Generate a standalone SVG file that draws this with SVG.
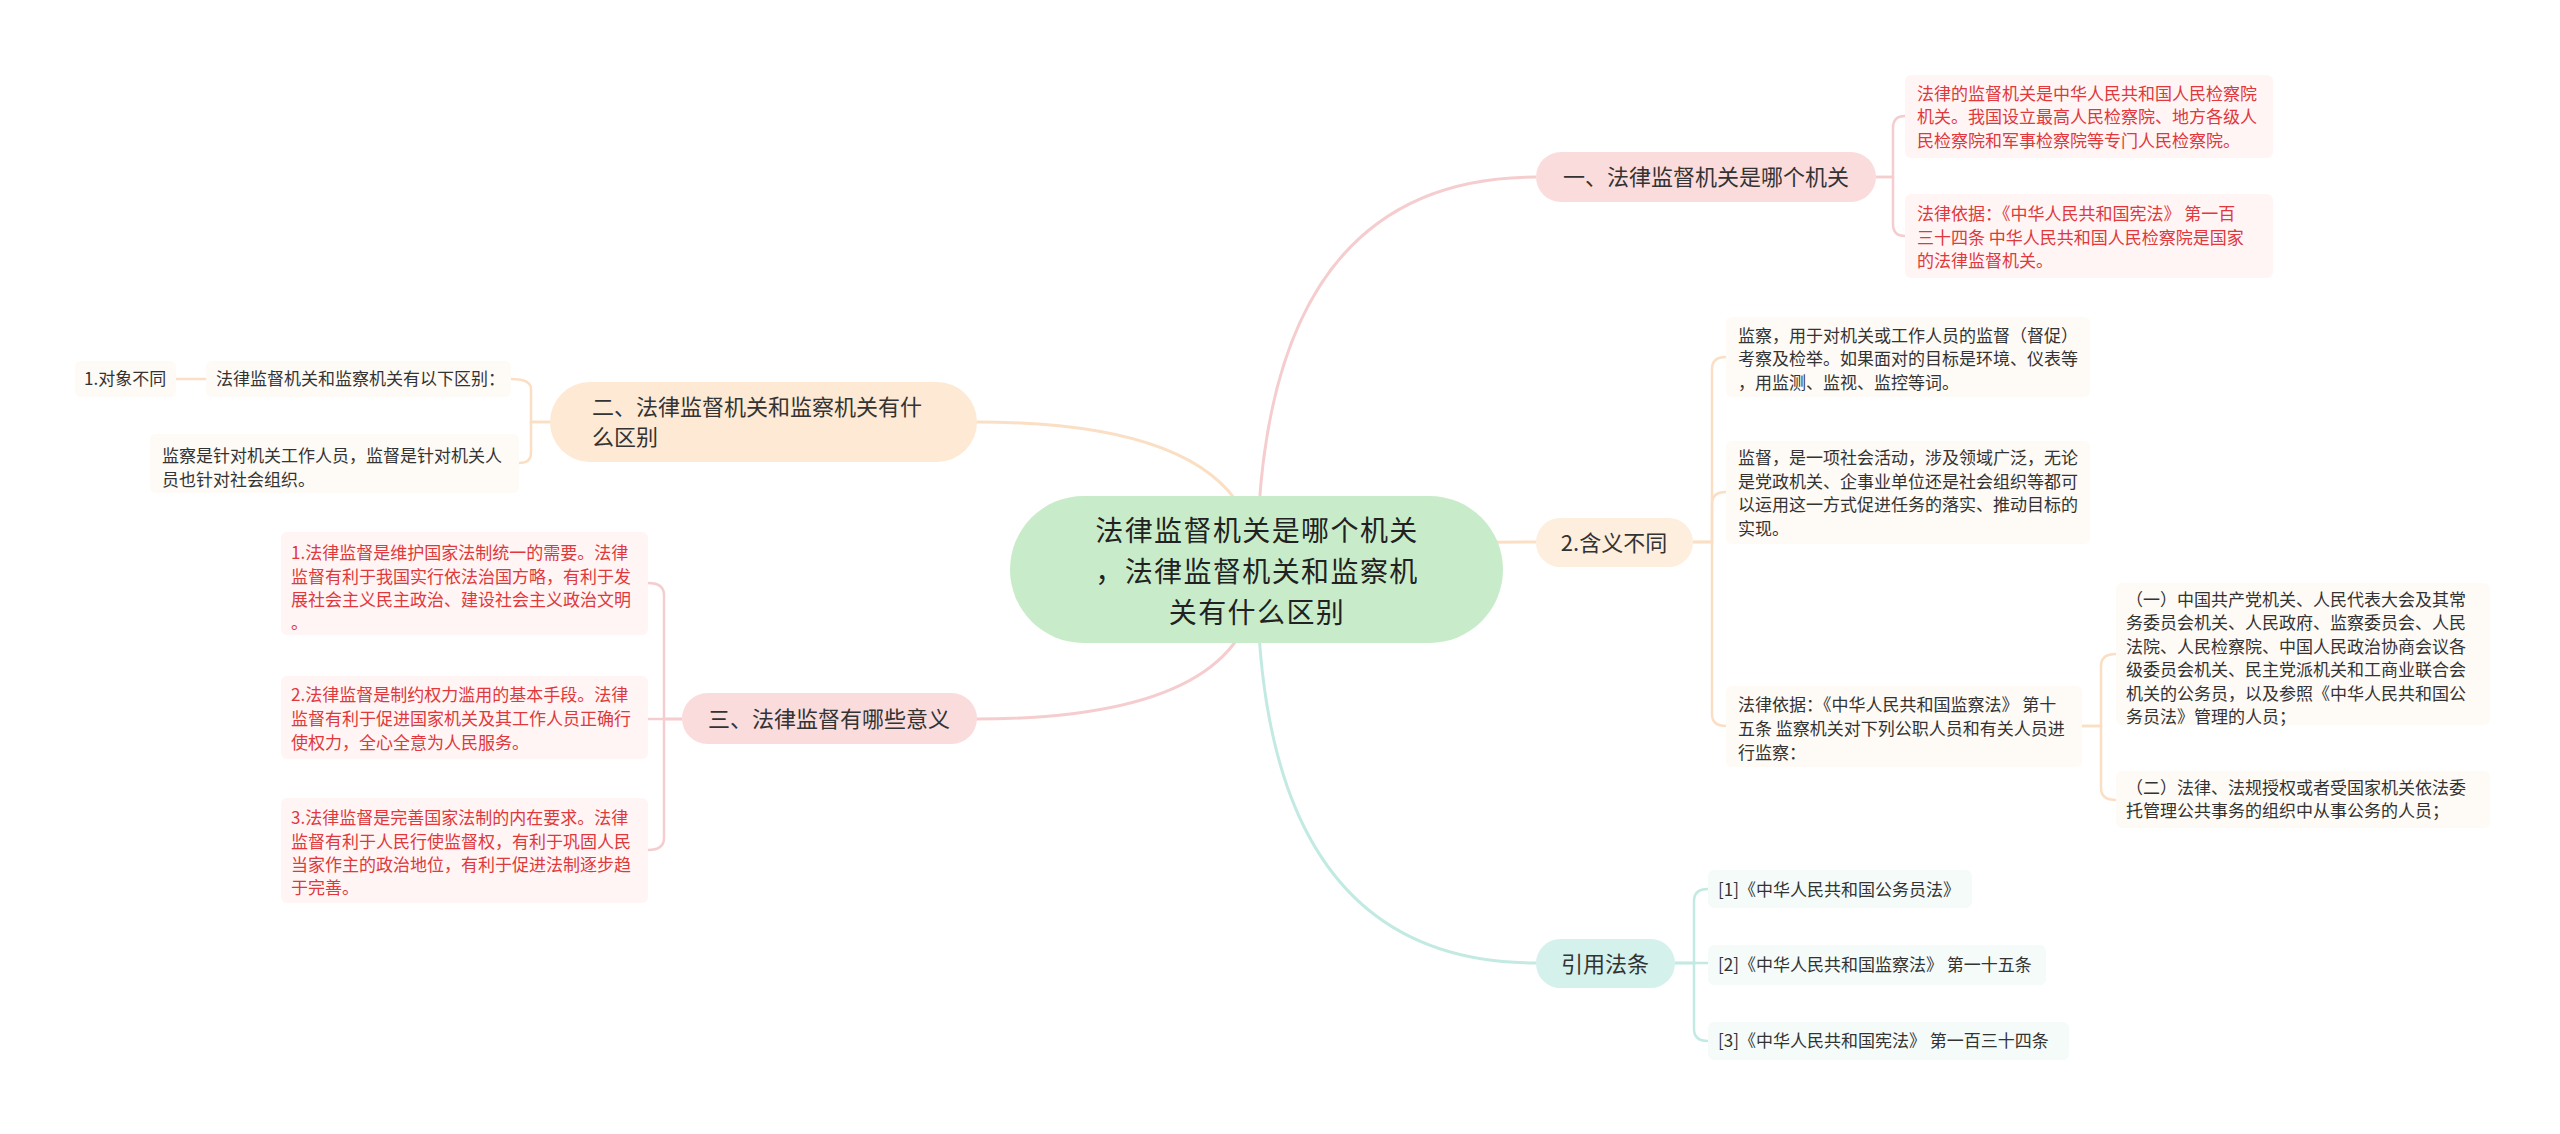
<svg xmlns="http://www.w3.org/2000/svg" width="2560" height="1134" viewBox="0 0 2560 1134">
<style>
text{font-family:"Noto Sans CJK SC","Noto Sans",sans-serif;}
.ct{font-size:28px;letter-spacing:1.4px;fill:#222;text-anchor:middle;}
.bt{font-size:22px;fill:#333;}
.tr{font-size:17px;fill:#e0383c;}
.td{font-size:17px;fill:#333;}
.cb-r{fill:#fff5f5;}
.cb-o{fill:#fefaf5;}
.cb-t{fill:#f4fbf9;}
.l-r{fill:none;stroke:#f5cdce;stroke-width:2.5;}
.l-o{fill:none;stroke:#fbdfc4;stroke-width:2.5;}
.l-t{fill:none;stroke:#c3eae2;stroke-width:2.5;}
.m{stroke-width:3;}
</style>
<rect width="2560" height="1134" fill="#ffffff"/>
<g id="connectors">
<path class="l-r m" d="M1257 571 Q1257 177 1536 177"/>
<path class="l-o m" d="M1257 571 Q1257 542 1536 542"/>
<path class="l-t m" d="M1257 571 Q1257 963 1536 963"/>
<path class="l-o m" d="M1257 571 Q1257 422 976 422"/>
<path class="l-r m" d="M1257 571 Q1257 719 976 719"/>
<path class="l-r" d="M1874 177 H1893 V128 Q1893 116 1905 116"/>
<path class="l-r" d="M1874 177 H1893 V224 Q1893 236 1905 236"/>
<path class="l-o" d="M1693 542 H1712 V369 Q1712 357 1726 357"/>
<path class="l-o" d="M1693 542 H1712 V504 Q1712 492 1726 492"/>
<path class="l-o" d="M1693 542 H1712 V714 Q1712 726 1726 726"/>
<path class="l-o" d="M2082 726 H2101 V666 Q2101 654 2116 654"/>
<path class="l-o" d="M2082 726 H2101 V788 Q2101 800 2116 800"/>
<path class="l-t" d="M1675 963 H1694 V901 Q1694 889 1708 889"/>
<path class="l-t" d="M1675 963 H1708"/>
<path class="l-t" d="M1675 963 H1694 V1029 Q1694 1041 1708 1041"/>
<path class="l-o" d="M550 422 H531 V389 Q531 379 511 379"/>
<path class="l-o" d="M550 422 H531 V453 Q531 463 519 463"/>
<path class="l-o" d="M206 379 H176"/>
<path class="l-r" d="M682 719 H664 V595 Q664 583 648 583"/>
<path class="l-r" d="M682 719 H648"/>
<path class="l-r" d="M682 719 H664 V838 Q664 850 648 850"/>
</g>
<g id="root">
<rect x="1010" y="496" width="493" height="147" rx="73.5" fill="#c8ecca"/>
<text class="ct"><tspan x="1257" y="541">法律监督机关是哪个机关</tspan><tspan x="1257" y="582">，法律监督机关和监察机</tspan><tspan x="1257" y="623">关有什么区别</tspan></text>
</g>
<g id="b1">
<rect x="1536" y="152" width="340" height="50" rx="25" fill="#fbdcdc"/>
<text class="bt" x="1706" y="185" text-anchor="middle">一、法律监督机关是哪个机关</text>
</g>
<g id="b1a">
<rect class="cb-r" x="1905" y="75" width="368" height="83" rx="6"/>
<text class="tr"><tspan x="1917" y="100">法律的监督机关是中华人民共和国人民检察院</tspan><tspan x="1917" y="123">机关。我国设立最高人民检察院、地方各级人</tspan><tspan x="1917" y="147">民检察院和军事检察院等专门人民检察院。</tspan></text>
</g>
<g id="b1b">
<rect class="cb-r" x="1905" y="194" width="368" height="84" rx="6"/>
<text class="tr"><tspan x="1917" y="220">法律依据：《中华人民共和国宪法》 第一百</tspan><tspan x="1917" y="244">三十四条 中华人民共和国人民检察院是国家</tspan><tspan x="1917" y="267">的法律监督机关。</tspan></text>
</g>
<g id="b2">
<rect x="1536" y="518" width="157" height="49" rx="24.5" fill="#fdeedd"/>
<text class="bt" x="1614" y="551" text-anchor="middle">2.含义不同</text>
</g>
<g id="b2a">
<rect class="cb-o" x="1726" y="317" width="364" height="80" rx="6"/>
<text class="td"><tspan x="1738" y="342">监察，用于对机关或工作人员的监督（督促）</tspan><tspan x="1738" y="365">考察及检举。如果面对的目标是环境、仪表等</tspan><tspan x="1738" y="389">，用监测、监视、监控等词。</tspan></text>
</g>
<g id="b2b">
<rect class="cb-o" x="1726" y="441" width="364" height="103" rx="6"/>
<text class="td"><tspan x="1738" y="464">监督，是一项社会活动，涉及领域广泛，无论</tspan><tspan x="1738" y="488">是党政机关、企事业单位还是社会组织等都可</tspan><tspan x="1738" y="511">以运用这一方式促进任务的落实、推动目标的</tspan><tspan x="1738" y="535">实现。</tspan></text>
</g>
<g id="b2c">
<rect class="cb-o" x="1726" y="686" width="356" height="81" rx="6"/>
<text class="td"><tspan x="1738" y="711">法律依据：《中华人民共和国监察法》 第十</tspan><tspan x="1738" y="735">五条 监察机关对下列公职人员和有关人员进</tspan><tspan x="1738" y="759">行监察：</tspan></text>
</g>
<g id="b2c1">
<rect class="cb-o" x="2116" y="583" width="374" height="142" rx="6"/>
<text class="td"><tspan x="2126" y="606">（一）中国共产党机关、人民代表大会及其常</tspan><tspan x="2126" y="629">务委员会机关、人民政府、监察委员会、人民</tspan><tspan x="2126" y="653">法院、人民检察院、中国人民政治协商会议各</tspan><tspan x="2126" y="676">级委员会机关、民主党派机关和工商业联合会</tspan><tspan x="2126" y="700">机关的公务员，以及参照《中华人民共和国公</tspan><tspan x="2126" y="723">务员法》管理的人员；</tspan></text>
</g>
<g id="b2c2">
<rect class="cb-o" x="2116" y="771" width="374" height="57" rx="6"/>
<text class="td"><tspan x="2126" y="794">（二）法律、法规授权或者受国家机关依法委</tspan><tspan x="2126" y="817">托管理公共事务的组织中从事公务的人员；</tspan></text>
</g>
<g id="b3">
<rect x="1536" y="939" width="139" height="49" rx="24.5" fill="#d5f1ec"/>
<text class="bt" x="1605" y="972" text-anchor="middle">引用法条</text>
</g>
<g id="b3a">
<rect class="cb-t" x="1708" y="870" width="264" height="38" rx="6"/>
<text class="td" x="1718" y="896">[1]《中华人民共和国公务员法》</text>
</g>
<g id="b3b">
<rect class="cb-t" x="1708" y="945" width="338" height="40" rx="6"/>
<text class="td" x="1718" y="971">[2]《中华人民共和国监察法》 第一十五条</text>
</g>
<g id="b3c">
<rect class="cb-t" x="1708" y="1022" width="361" height="38" rx="6"/>
<text class="td" x="1718" y="1047">[3]《中华人民共和国宪法》 第一百三十四条</text>
</g>
<g id="b4">
<rect x="550" y="382" width="427" height="80" rx="40" fill="#fde9d4"/>
<text class="bt"><tspan x="592" y="415">二、法律监督机关和监察机关有什</tspan><tspan x="592" y="445">么区别</tspan></text>
</g>
<g id="b4a">
<rect class="cb-o" x="206" y="361" width="305" height="36" rx="6"/>
<text class="td" x="216" y="385">法律监督机关和监察机关有以下区别：</text>
</g>
<g id="b4a1">
<rect class="cb-o" x="75" y="361" width="101" height="36" rx="6"/>
<text class="td" x="84" y="385">1.对象不同</text>
</g>
<g id="b4b">
<rect class="cb-o" x="150" y="434" width="369" height="59" rx="6"/>
<text class="td"><tspan x="162" y="462">监察是针对机关工作人员，监督是针对机关人</tspan><tspan x="162" y="486">员也针对社会组织。</tspan></text>
</g>
<g id="b5">
<rect x="682" y="693" width="295" height="51" rx="25.5" fill="#fadcdc"/>
<text class="bt" x="829" y="727" text-anchor="middle">三、法律监督有哪些意义</text>
</g>
<g id="b5a">
<rect class="cb-r" x="281" y="532" width="367" height="103" rx="6"/>
<text class="tr"><tspan x="291" y="559">1.法律监督是维护国家法制统一的需要。法律</tspan><tspan x="291" y="583">监督有利于我国实行依法治国方略，有利于发</tspan><tspan x="291" y="606">展社会主义民主政治、建设社会主义政治文明</tspan><tspan x="291" y="629">。</tspan></text>
</g>
<g id="b5b">
<rect class="cb-r" x="281" y="676" width="367" height="83" rx="6"/>
<text class="tr"><tspan x="291" y="701">2.法律监督是制约权力滥用的基本手段。法律</tspan><tspan x="291" y="725">监督有利于促进国家机关及其工作人员正确行</tspan><tspan x="291" y="749">使权力，全心全意为人民服务。</tspan></text>
</g>
<g id="b5c">
<rect class="cb-r" x="281" y="798" width="367" height="105" rx="6"/>
<text class="tr"><tspan x="291" y="824">3.法律监督是完善国家法制的内在要求。法律</tspan><tspan x="291" y="848">监督有利于人民行使监督权，有利于巩固人民</tspan><tspan x="291" y="871">当家作主的政治地位，有利于促进法制逐步趋</tspan><tspan x="291" y="894">于完善。</tspan></text>
</g>
</svg>
